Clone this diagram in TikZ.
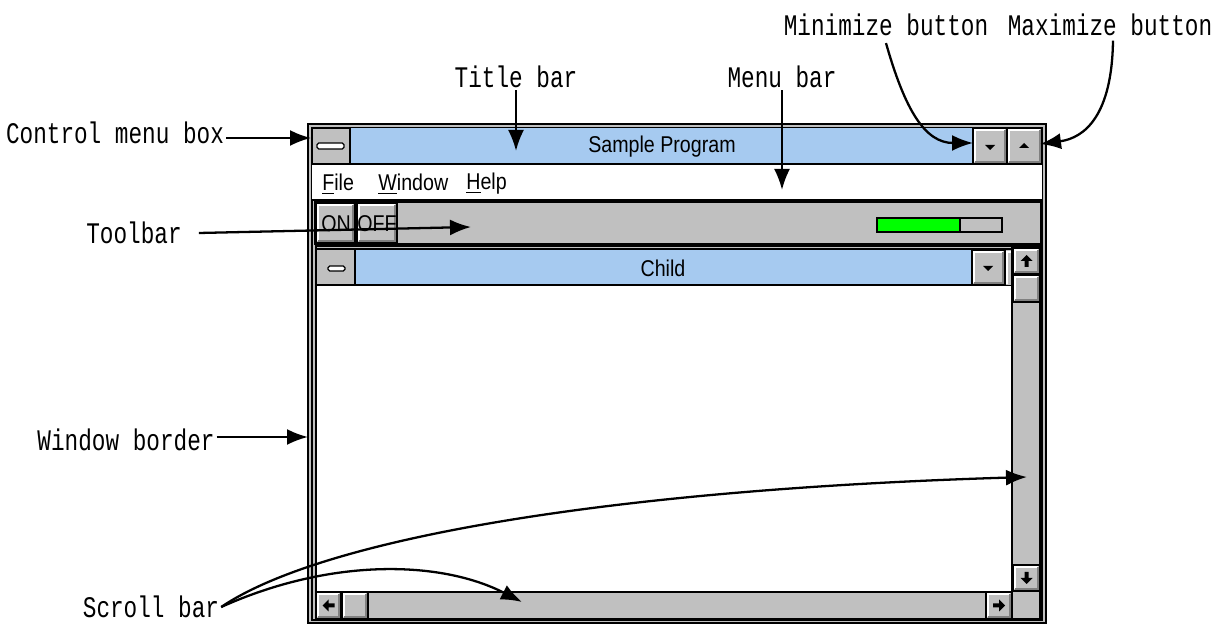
\documentclass[tikz,border=0pt]{standalone}
\usepackage{fontspec}
\usetikzlibrary{arrows.meta}
\newfontfamily\lblfont[FakeStretch=0.76]{Liberation Mono}
\newfontfamily\winfont[FakeStretch=0.86]{Liberation Sans}
\definecolor{wgrey}{HTML}{C0C0C0}
\definecolor{wshade}{HTML}{808080}
\definecolor{wtitle}{HTML}{A6CAF0}
\definecolor{wgreen}{HTML}{00FF00}
\newcommand\winbutton[4]{%
	\fill[wgrey] (#1,#2) rectangle (#3,#4);
	\draw[white,line width=1.1pt] (#1+1.6,#4-1.6) -- (#1+1.6,#2+1.6) -- (#3-1.6,#2+1.6);
	\draw[wshade,line width=1.1pt] (#1+1.6,#4-1.6) -- (#3-1.6,#4-1.6) -- (#3-1.6,#2+1.6);
	\draw[black,line width=0.7pt] (#1,#2) rectangle (#3,#4);}
\begin{document}
\begin{tikzpicture}[x=0.02cm,y=-0.02cm,
	lbl/.style={font=\lblfont\fontsize{17}{20}\selectfont,inner sep=1pt},
	wtext/.style={font=\winfont\fontsize{13}{15}\selectfont,inner sep=0},
	arr/.style={-{Latex[length=0.42cm,width=0.32cm]},line width=1.3pt},
	edge/.style={draw=black,line width=0.7pt},
	pics/sarrow/.style={code={\fill (0,-6) -- (6,0) -- (2,0) -- (2,6) -- (-2,6) -- (-2,0) -- (-6,0) -- cycle;}}]
\useasboundingbox (0,0) rectangle (1218,624);
\fill[white] (0,0) rectangle (1218,624);
\draw[edge,fill=wgrey] (308,124) rectangle (1046,623);
\draw[edge] (312,128) rectangle (1042,620);
\fill[wtitle] (350,128) rectangle (973,164);
\draw[edge] (312,164) -- (1042,164);
\draw[edge] (350,128) -- (350,164);
\draw[edge,fill=white,rounded corners=1pt] (317,143) rectangle (344,149);
\winbutton{973}{128}{1007}{164}
\winbutton{1007}{128}{1042}{164}
\fill (985,145) -- (995,145) -- (990,150) -- cycle;
\fill (1019,148) -- (1029,148) -- (1024,143) -- cycle;
\node[wtext] (title) at (662,147) {Sample Program};
\fill[white] (312.4,165) rectangle (1041.6,200);
\draw[edge] (312,200) -- (1042,200);
\node[wtext,anchor=west] (mfile) at (322,184) {\underline{F}ile};
\node[wtext,anchor=west] (mwin) at (378,184) {\underline{W}indow};
\node[wtext,anchor=west] (mhelp) at (466,184) {\underline{H}elp};
\draw[line width=1.5pt,fill=wgrey] (315,202) rectangle (1041,244);
\winbutton{316}{203}{355}{243}
\winbutton{357}{203}{397}{243}
\node[wtext] (on) at (336,224) {ON};
\node[wtext] (off) at (377,224) {OFF};
\draw[edge,fill=wgrey] (877,218) rectangle (1002,232);
\draw[edge,fill=wgreen] (877,218) rectangle (960,232);
\draw[edge,fill=wgrey] (316,246) rectangle (1041,620);
\fill[wtitle] (355,249) rectangle (972,285);
\draw[edge] (317,249) -- (1012,249);
\draw[edge] (355,249) -- (355,285);
\draw[edge] (316,285) -- (1012,285);
\draw[edge,fill=white,rounded corners=1pt] (328,266) rectangle (345,271);
\winbutton{972}{250}{1005}{285}
\fill (983,266) -- (993,266) -- (988,271) -- cycle;
\fill[wgrey] (1005,250) rectangle (1012,285);
\draw[white,line width=1.1pt] (1006.6,284) -- (1006.6,251.6) -- (1012,251.6);
\draw[edge] (1005,250) -- (1005,285);
\node[wtext] (child) at (663,268) {Child};
\fill[white] (316.5,286) rectangle (1012,591);
\draw[edge,fill=wgrey] (1012,248) rectangle (1040,591);
\winbutton{1013}{248}{1040}{274}
\winbutton{1013}{275}{1040}{302}
\winbutton{1013}{565}{1040}{591}
\draw[edge,fill=wgrey] (316,592) rectangle (1012,619);
\winbutton{316}{592}{341}{619}
\winbutton{342}{592}{368}{619}
\winbutton{986}{592}{1012}{619}
\draw[edge,fill=wgrey] (1012,591) rectangle (1040,619);
\pic at (1026.5,261) {sarrow};
\pic[rotate=180] at (1026.5,578) {sarrow};
\pic[rotate=90] at (328.5,605.5) {sarrow};
\pic[rotate=-90] at (999,605.5) {sarrow};
\coordinate (ctlbox) at (311,138);
\coordinate (titlebar) at (516,151);
\coordinate (menubar) at (782,190);
\coordinate (toolbar) at (471,227);
\coordinate (minbtn) at (973,143);
\coordinate (maxbtn) at (1040,144);
\coordinate (border) at (308,437);
\coordinate (vscroll) at (1027,477);
\coordinate (hscroll) at (522,602);
\node[lbl] (ctl) at (115,133) {Control menu box};
\node[lbl] (ttl) at (516,77) {Title bar};
\node[lbl] (mnu) at (782,77) {Menu bar};
\node[lbl] (tbar) at (134,233) {Toolbar};
\node[lbl] (mini) at (886,25) {Minimize button};
\node[lbl] (maxi) at (1110,25) {Maximize button};
\node[lbl] (wbd) at (126,440) {Window border};
\node[lbl] (sbar) at (151,607) {Scroll bar};
\draw[arr] (ctl.east |- ctlbox) -- (ctlbox);
\draw[arr] (ttl.south) -- (titlebar);
\draw[arr] (mnu.south) -- (menubar);
\draw[arr] ([xshift=0.3cm]tbar.east) -- (toolbar);
\draw[arr] ([yshift=-0.1cm]mini.south) .. controls (905,110) and (925,143) .. (minbtn);
\draw[arr] ([xshift=0.06cm,yshift=-0.05cm]maxi.south) .. controls (1112,115) and (1085,138) .. (maxbtn);
\draw[arr] (wbd.east |- border) -- (border);
\draw[arr] (sbar.east) .. controls (320,540) and (600,490) .. (vscroll);
\draw[arr] (sbar.east) .. controls (330,558) and (440,560) .. (hscroll);
\end{tikzpicture}
\end{document}
